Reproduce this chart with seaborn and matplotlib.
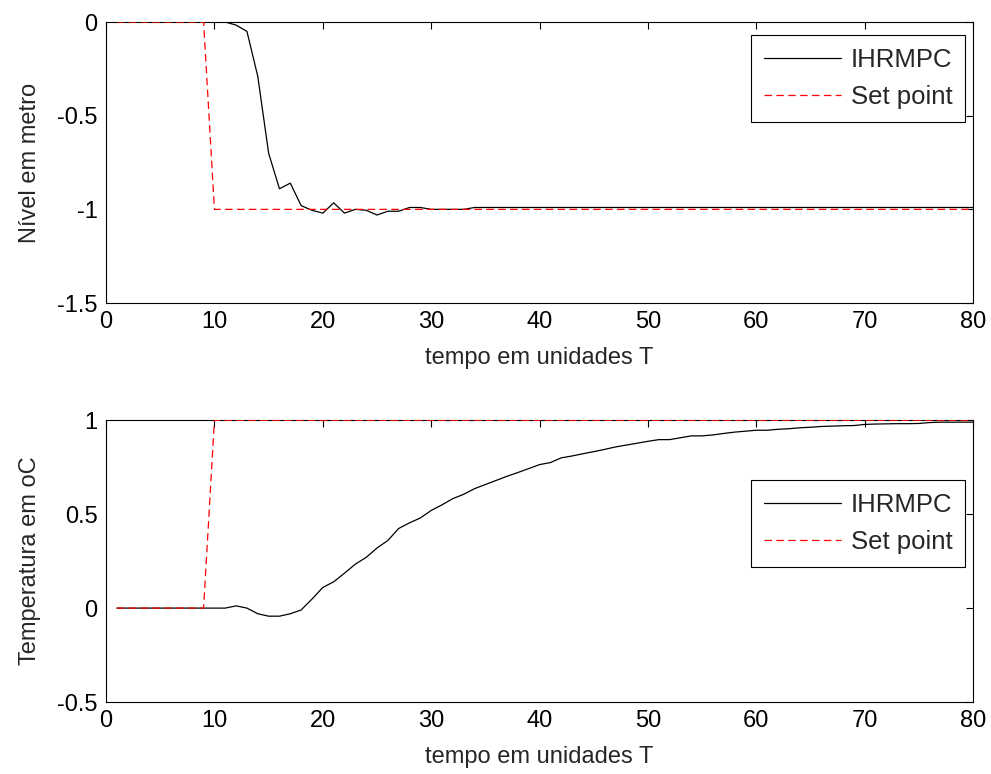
import numpy as np
import pandas as pd
import matplotlib
matplotlib.use('Agg')
import matplotlib.pyplot as plt
import seaborn as sns

# sample instants
t = list(range(1, 81))

# nivel (top plot)
nivel_ihrmpc = [0.0] * 11 + [
    -0.016, -0.05, -0.29, -0.70, -0.89, -0.86, -0.98, -1.005, -1.02,
    -0.965, -1.02, -1.0, -1.005, -1.03, -1.01, -1.01, -0.99, -0.99,
    -1.0, -1.0, -1.0, -1.0] + [-0.99] * 47
nivel_setpoint = [0.0] * 9 + [-1.0] * 71

# temperatura (bottom plot)
temp_ihrmpc = [0.0] * 11 + [
    0.012, 0.0, -0.03, -0.043, -0.043, -0.03, -0.01, 0.048, 0.11,
    0.14, 0.186, 0.234, 0.27, 0.32, 0.36, 0.424, 0.454, 0.48, 0.52,
    0.55, 0.583, 0.606, 0.636, 0.658, 0.68, 0.702, 0.722, 0.743, 0.764,
    0.775, 0.80, 0.81, 0.822, 0.833, 0.845, 0.858, 0.868, 0.878, 0.888,
    0.897, 0.897, 0.907, 0.917, 0.917, 0.922, 0.93, 0.937, 0.942, 0.947,
    0.947, 0.952, 0.955, 0.96, 0.963, 0.967, 0.969, 0.971, 0.972, 0.978,
    0.98, 0.981, 0.982, 0.982, 0.983, 0.988, 0.99, 0.99, 0.99, 0.99]
temp_setpoint = [0.0] * 9 + [1.0] * 71

sns.set_style('white')
plt.rcParams['font.family'] = ['Liberation Sans', 'DejaVu Sans']
plt.rcParams['font.size'] = 17

fig = plt.figure(figsize=(9.91, 7.74), dpi=100)
ax1 = fig.add_axes([0.107, 0.6085, 0.875, 0.363])
ax2 = fig.add_axes([0.107, 0.093, 0.875, 0.364])

df1 = pd.DataFrame({'t': t, 'IHRMPC': nivel_ihrmpc, 'Set point': nivel_setpoint})
df2 = pd.DataFrame({'t': t, 'IHRMPC': temp_ihrmpc, 'Set point': temp_setpoint})

panels = [
    (ax1, df1, 'Nível em metro', (-1.5, 0), [-1.5, -1, -0.5, 0], ['-1.5', '-1', '-0.5', '0'], (0.991, 0.954)),
    (ax2, df2, 'Temperatura em oC', (-0.5, 1), [-0.5, 0, 0.5, 1], ['-0.5', '0', '0.5', '1'], (0.991, 0.787)),
]

for ax, df, ylab, ylim, yt, ytl, anchor in panels:
    sns.lineplot(data=df, x='t', y='IHRMPC', ax=ax, color='black', lw=0.9,
                 label='IHRMPC', zorder=3)
    sns.lineplot(data=df, x='t', y='Set point', ax=ax, color='red', lw=0.9,
                 linestyle=(0, (6, 3.5)), label='Set point', zorder=3)
    ax.set_xlim(0, 80)
    ax.set_ylim(*ylim)
    ax.set_xticks(range(0, 81, 10))
    ax.set_yticks(yt)
    ax.set_yticklabels(ytl)
    ax.set_xlabel('tempo em unidades T', fontsize=17, labelpad=10)
    ax.set_ylabel(ylab, fontsize=17, labelpad=12)
    ax.tick_params(direction='in', length=5, width=0.8, top=True, right=True,
                   labelsize=17, pad=6, colors='black')
    for s in ax.spines.values():
        s.set_color('black')
        s.set_linewidth(0.8)
    leg = ax.legend(loc='upper right', bbox_to_anchor=anchor, fontsize=18.5,
                    handlelength=3.0, handletextpad=0.4, borderpad=0.5,
                    labelspacing=0.5, fancybox=False, framealpha=1,
                    borderaxespad=0)
    leg.get_frame().set_edgecolor('black')
    leg.get_frame().set_linewidth(0.8)

fig.savefig('out.png', dpi=100, facecolor='white')
